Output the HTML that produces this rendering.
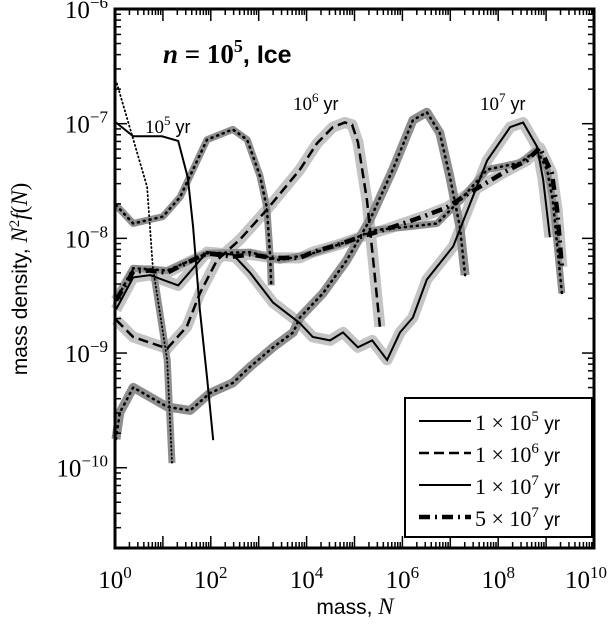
<!DOCTYPE html>
<html><head><meta charset="utf-8"><style>
body{margin:0;background:#fff}
svg text{font-family:"Liberation Serif",serif}
.sans{font-family:"Liberation Sans",sans-serif}
</style></head><body>
<svg id="c" width="616" height="623" viewBox="0 0 616 623" xmlns="http://www.w3.org/2000/svg">
<rect x="0" y="0" width="616" height="623" fill="#fff"/>
<g id="bands"></g>
<g id="lines"></g>
<g id="axes"></g>
<text x="163" y="63" font-size="27" font-weight="bold"><tspan font-style="italic">n</tspan> = 10<tspan dy="-11" font-size="18">5</tspan><tspan dy="11" class="sans" font-size="25">, Ice</tspan></text>
<text x="145" y="133" font-size="19">10<tspan dy="-8" font-size="13">5</tspan><tspan dy="8" class="sans" font-size="18"> yr</tspan></text>
<text x="293" y="110" font-size="19">10<tspan dy="-8" font-size="13">6</tspan><tspan dy="8" class="sans" font-size="18"> yr</tspan></text>
<text x="480" y="110" font-size="19">10<tspan dy="-8" font-size="13">7</tspan><tspan dy="8" class="sans" font-size="18"> yr</tspan></text>
<text class="sans" x="355" y="614" font-size="21" text-anchor="middle">mass, <tspan font-family="Liberation Serif" font-style="italic" font-size="23">N</tspan></text>
<text class="sans" transform="translate(27,279) rotate(-90)" font-size="21" text-anchor="middle">mass density, <tspan font-family="Liberation Serif" font-style="italic" font-size="23">N</tspan><tspan font-family="Liberation Serif" dy="-8" font-size="15">2</tspan><tspan font-family="Liberation Serif" font-style="italic" dy="8" font-size="23">f</tspan><tspan font-family="Liberation Serif" font-size="23">(</tspan><tspan font-family="Liberation Serif" font-style="italic" font-size="23">N</tspan><tspan font-family="Liberation Serif" font-size="23">)</tspan></text>
<g>
<rect x="405" y="398" width="187" height="139" fill="#fff" stroke="#000" stroke-width="2"/>
<line x1="419" y1="421" x2="471" y2="421" stroke="#000" stroke-width="2"/>
<text x="475" y="430" font-size="22">1 × 10<tspan dy="-9" font-size="15">5</tspan><tspan dy="9" class="sans" font-size="19"> yr</tspan></text>
<line x1="419" y1="453" x2="471" y2="453" stroke="#000" stroke-width="2.5" stroke-dasharray="10,5"/>
<text x="475" y="462" font-size="22">1 × 10<tspan dy="-9" font-size="15">6</tspan><tspan dy="9" class="sans" font-size="19"> yr</tspan></text>
<line x1="419" y1="485" x2="471" y2="485" stroke="#000" stroke-width="2"/>
<text x="475" y="494" font-size="22">1 × 10<tspan dy="-9" font-size="15">7</tspan><tspan dy="9" class="sans" font-size="19"> yr</tspan></text>
<line x1="419" y1="517" x2="471" y2="517" stroke="#000" stroke-width="4.5" stroke-dasharray="11,5,2,5"/>
<text x="475" y="526" font-size="22">5 × 10<tspan dy="-9" font-size="15">7</tspan><tspan dy="9" class="sans" font-size="19"> yr</tspan></text>
</g>
</svg>
<script>
// data: log10(mass N) and log10(mass density)
const aLogN=[0.02,0.38,0.98,1.32,1.52,1.63,1.77,1.92,2.05];
const aLogY=[-6.99,-7.11,-7.11,-7.15,-7.47,-7.90,-8.62,-9.21,-9.76];
const a2LogN=[0.04,0.67,0.79,1.09,1.19];
const a2LogY=[-6.65,-7.55,-8.25,-9.06,-9.96];
const bLogN=[0.02,0.38,1.00,1.36,1.92,2.46,2.76,3.03,3.17,3.24,3.26];
const bLogY=[-7.71,-7.87,-7.81,-7.64,-7.14,-7.05,-7.14,-7.46,-7.73,-8.16,-8.41];
const cLogN=[0.02,0.38,1.09,1.50,1.77,2.13,2.61,3.17,3.86,4.22,4.55,4.80,4.95,5.07,5.26,5.39,5.53];
const cLogY=[-8.71,-8.86,-8.96,-8.77,-8.48,-8.19,-8.01,-7.75,-7.40,-7.17,-7.03,-6.99,-7.01,-7.16,-7.67,-8.19,-8.77];
const dLogN=[0.02,0.10,0.38,1.09,1.57,1.98,2.46,2.82,3.30,3.72,3.86,4.34,4.84,5.32,5.80,6.22,6.51,6.78,6.99,7.20,7.31];
const dLogY=[-9.75,-9.52,-9.30,-9.47,-9.50,-9.35,-9.26,-9.12,-8.95,-8.82,-8.69,-8.48,-8.19,-7.84,-7.40,-6.97,-6.90,-7.08,-7.46,-7.90,-8.32];
const eLogN=[0.02,0.38,0.73,1.32,1.92,2.46,2.82,3.30,3.86,4.13,4.49,4.76,5.07,5.37,5.68,5.95,6.22,6.51,7.06,7.77,8.25,8.52,8.81,8.94,9.08];
const eLogY=[-8.62,-8.34,-8.32,-8.41,-8.12,-8.14,-8.30,-8.56,-8.74,-8.86,-8.89,-8.82,-8.95,-8.89,-9.06,-8.82,-8.69,-8.36,-8.07,-7.32,-7.03,-6.99,-7.20,-7.49,-7.99];
const fLogN=[0.02,0.38,0.73,1.09,1.42,1.92,2.46,2.82,3.30,3.86,4.13,4.63,5.11,5.74,6.43,6.93,7.41,8.10,8.60,8.87,9.12,9.23,9.33];
const fLogY=[-8.54,-8.29,-8.28,-8.30,-8.23,-8.13,-8.16,-8.14,-8.17,-8.17,-8.12,-8.06,-7.99,-7.91,-7.81,-7.73,-7.60,-7.43,-7.32,-7.21,-7.43,-7.75,-8.25];
const gLogN=[0.02,0.38,1.09,1.92,2.82,3.44,4.13,4.84,5.39,6.10,6.72,7.20,7.77,8.46,8.81,9.02,9.14,9.33];
const gLogY=[-8.54,-8.26,-8.28,-8.13,-8.12,-8.19,-8.13,-8.03,-7.93,-7.90,-7.87,-7.67,-7.40,-7.34,-7.23,-7.40,-7.67,-8.48];
const xTickExps=[0,2,4,6,8,10];
const yTickExps=[-6,-7,-8,-9,-10];

const X0=115,X1=594,Y0=9,Y1=548,XMIN=0,XMAX=10,YMAX=-6,YMIN=-10.7;
function sx(v){return X0+(v-XMIN)/(XMAX-XMIN)*(X1-X0);}
function sy(v){return Y0+(YMAX-v)/(YMAX-YMIN)*(Y1-Y0);}
const NS="http://www.w3.org/2000/svg";
function pts(xs,ys){return xs.map((v,i)=>sx(v).toFixed(1)+","+sy(ys[i]).toFixed(1)).join(" ");}
const bands=document.getElementById('bands'),lines=document.getElementById('lines'),axes=document.getElementById('axes');
function band(xs,ys,color,w,name){
  const p=document.createElementNS(NS,'polyline');
  p.setAttribute('points',pts(xs,ys));p.setAttribute('fill','none');p.setAttribute('stroke',color);
  p.setAttribute('stroke-width',w);p.setAttribute('stroke-linejoin','round');
  
  
  bands.appendChild(p);
}
function line(xs,ys,w,dash,name,cap){
  const p=document.createElementNS(NS,'polyline');
  p.setAttribute('points',pts(xs,ys));p.setAttribute('fill','none');p.setAttribute('stroke','#000');
  p.setAttribute('stroke-width',w);if(dash)p.setAttribute('stroke-dasharray',dash);
  if(cap)p.setAttribute('stroke-linecap',cap);
  
  
  lines.appendChild(p);
}
band(cLogN,cLogY,'#c4c4c4',11,'band-1e6');
band(eLogN,eLogY,'#c4c4c4',11,'band-1e7');
band(fLogN,fLogY,'#c4c4c4',11,'band-5e7');
band(gLogN,gLogY,'#8e8e8e',7,'band-dotted-late');
band(dLogN,dLogY,'#8e8e8e',9,'band-dotted-mid');
band(bLogN,bLogY,'#8e8e8e',7,'band-dotted-early');
band(a2LogN.slice(2),a2LogY.slice(2),'#8e8e8e',7,'band-dotted-first');
line(a2LogN,a2LogY,1.8,'1,3','line-dotted-first','round');
line(bLogN,bLogY,2.6,'1,5','line-dotted-early','round');
line(dLogN,dLogY,2.6,'1,5','line-dotted-mid','round');
line(gLogN,gLogY,2.6,'1,5','line-dotted-late','round');
line(aLogN,aLogY,2,null,'line-1e5');
line(cLogN,cLogY,2.5,'10,5','line-1e6');
line(eLogN,eLogY,2,null,'line-1e7');
line(fLogN,fLogY,4.5,'11,5,2,5','line-5e7');

function mk(tag,attrs,name){const e=document.createElementNS(NS,tag);for(const k in attrs)e.setAttribute(k,attrs[k]);
  
  
  axes.appendChild(e);return e;}
mk('rect',{x:X0,y:Y0,width:X1-X0,height:Y1-Y0,fill:'none',stroke:'#000','stroke-width':3},'plot-frame');
for(let d=0;d<10;d++){for(let m=1;m<=9;m++){const v=d+Math.log10(m);const x=sx(v);const L=m===1?12:6;
  mk('line',{x1:x,y1:Y1,x2:x,y2:Y1-L,stroke:'#000','stroke-width':1.5},'x-tick');
  mk('line',{x1:x,y1:Y0,x2:x,y2:Y0+L,stroke:'#000','stroke-width':1.5},'x-tick-top');}}
for(let d=-11;d<-6;d++){for(let m=1;m<=9;m++){const v=d+Math.log10(m);if(v<YMIN||v>YMAX)continue;const y=sy(v);const L=m===1?12:6;
  mk('line',{x1:X0,y1:y,x2:X0+L,y2:y,stroke:'#000','stroke-width':1.5},'y-tick');
  mk('line',{x1:X1,y1:y,x2:X1-L,y2:y,stroke:'#000','stroke-width':1.5},'y-tick-right');}}
xTickExps.forEach(e=>{const t=mk('text',{x:sx(e)+(e===10?-8:0),y:588,'font-size':25,'text-anchor':'middle'},'x-tick-label');
  t.innerHTML='10<tspan dy="-10" font-size="17">'+e+'</tspan>';});
yTickExps.forEach(e=>{const t=mk('text',{x:108,y:sy(e)+9,'font-size':25,'text-anchor':'end'},'y-tick-label');
  t.innerHTML='10<tspan dy="-10" font-size="17">\u2212'+(-e)+'</tspan>';});
</script>
</body></html>
